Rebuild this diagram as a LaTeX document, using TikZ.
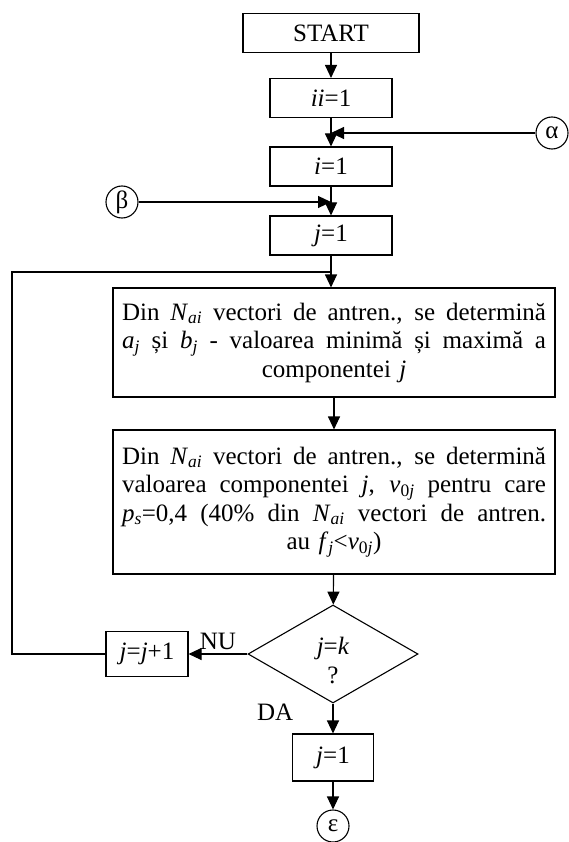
\documentclass[tikz,border=0pt]{standalone}
\usepackage{fontspec}
\setmainfont{Liberation Serif}
\usepackage{tikz}
\usetikzlibrary{shapes.geometric, arrows.meta, positioning}
\newcommand{\vsub}[2]{\textit{#1}\textsubscript{\textit{#2}}}
\newcommand{\justline}[1]{\leavevmode\hbox to 424pt{\spaceskip=.25em plus 1fil\relax #1}}
\tikzset{
  procbox/.style={draw, line width=1.1pt, minimum width=122pt, minimum height=39pt, inner sep=2pt},
  bigbox/.style={draw, line width=1.1pt, minimum width=442pt, text width=426pt, align=center, inner sep=8pt},
  decision/.style={draw, diamond, line width=1.1pt, minimum width=170pt, minimum height=98pt, inner sep=0pt, align=center},
  connector/.style={draw, circle, line width=1.1pt, minimum size=32pt, inner sep=0pt},
  flow/.style={line width=1.1pt, -{Triangle[length=13pt,width=12pt]}},
  plainline/.style={line width=1.1pt}
}

\begin{document}
\begin{tikzpicture}[x=1pt, y=-1pt, every node/.style={font=\fontsize{25pt}{28.5pt}\selectfont}]
    \useasboundingbox (0,0) rectangle (569,842);

    % main column
    \node[procbox, minimum width=176pt] (start) at (331,33) {START};
    \node[procbox] (iione) at (331,98) {\textit{ii}=1};
    \node[procbox] (ione) at (331,166.5) {\textit{i}=1};
    \node[procbox] (jone) at (331,235.5) {\textit{j}=1};
    \node[bigbox, minimum height=109pt] (minmax) at (334,342.5)
        {\justline{Din \vsub{N}{ai} vectori de antren., se determină}\\
         \justline{\vsub{a}{j} și \vsub{b}{j} - valoarea minimă și maximă a}\\
         componentei \textit{j}};
    \node[bigbox, minimum height=144pt] (threshold) at (334,502)
        {\justline{Din \vsub{N}{ai} vectori de antren., se determină}\\
         \justline{valoarea componentei \textit{j}, \textit{v}\textsubscript{0\textit{j}} pentru care}\\
         \justline{\vsub{p}{s}=0,4 (40\% din \vsub{N}{ai} vectori de antren.}\\
         au \vsub{f}{j}<\textit{v}\textsubscript{0\textit{j}})};
    \node[decision] (test) at (333,654) {\rule{0pt}{30pt}\textit{j}=\textit{k}\\?};
    \node[procbox, minimum width=82pt, minimum height=45pt] (jinc) at (147,654) {\textit{j}=\textit{j}+1};
    \node[procbox, minimum width=81pt, minimum height=47pt] (jreset) at (333,757.5) {\textit{j}=1};

    % connectors
    \node[connector] (alpha) at (552,133) {α};
    \node[connector] (beta) at (122,202) {β};
    \node[connector] (eps) at (333,826) {ε};
    \coordinate (ajoin) at (331,133);
    \coordinate (bjoin) at (331,202);
    \coordinate (loopjoin) at (331,272);
    \coordinate (loopleft) at (12,272);

    \draw[flow] (start) -- (iione);
    \draw[flow] (iione) -- (ione);
    \draw[flow] (alpha) -- (ajoin);
    \draw[flow] (ione) -- (jone);
    \draw[flow] (beta) -- (bjoin);
    \draw[flow] (jone) -- (jone |- minmax.north);
    \draw[flow] (minmax) -- (threshold);
    \draw[flow] (threshold) -- (test);
    \draw[flow] (test) -- node[above] {NU} (jinc);
    \draw[flow] (test) -- node[pos=0.3, left=36pt] {DA} (jreset);
    \draw[flow] (jreset) -- (eps);
    \draw[plainline] (jinc.west) -| (loopleft) -- (loopjoin);
\end{tikzpicture}
\end{document}
